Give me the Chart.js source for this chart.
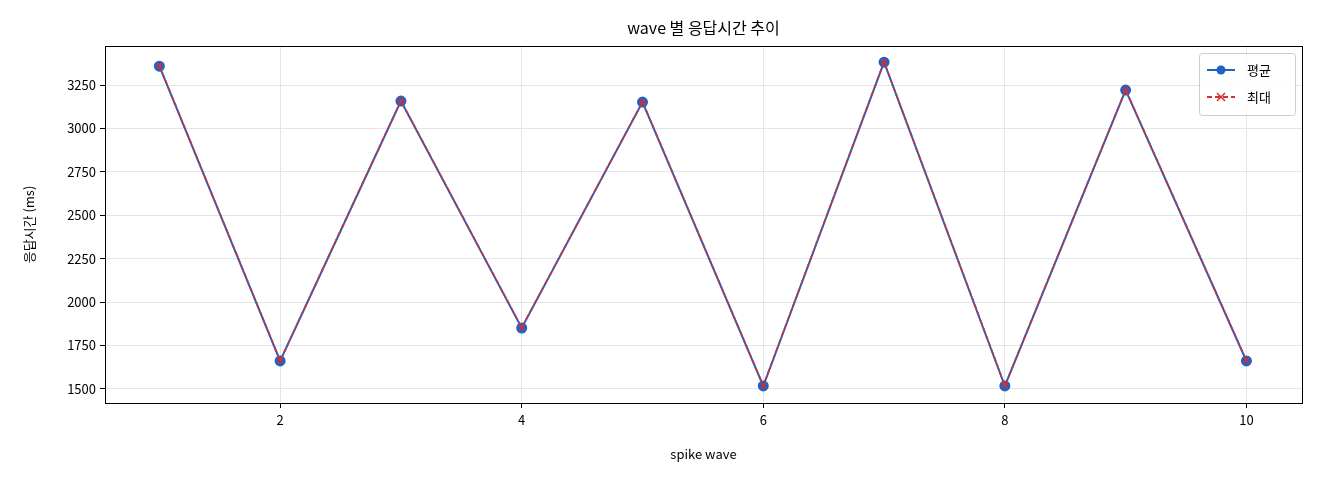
<!DOCTYPE html>
<html><head><meta charset="utf-8">
<script src="https://cdn.jsdelivr.net/npm/chart.js@4"></script>
<style>html,body{margin:0;padding:0;background:#fff}#w{width:1320px;height:480px}</style>
</head><body><div id="w"><canvas id="c"></canvas></div>
<script>
const waves = [1,2,3,4,5,6,7,8,9,10];
const avgMs = [3359,1661,3158,1851,3152,1517,3382,1517,3221,1661];
const maxMs = [3362,1663,3160,1853,3154,1519,3384,1519,3223,1663];
const xTicks = [2,4,6,8,10];
const yTicks = [1500,1750,2000,2250,2500,2750,3000,3250];
const F = "'Noto Sans CJK KR','Noto Sans',sans-serif";
const BLUE = '#1f62c4', RED = '#d62f2f';
const legendPlugin = {
  id:'lg',
  afterDraw(ch){
    const c = ch.ctx, a = ch.chartArea;
    const x = a.right - 103, y = a.top + 7, w = 96, h = 62;
    c.save();
    c.fillStyle='rgba(255,255,255,0.85)'; c.strokeStyle='#cccccc'; c.lineWidth=1;
    c.beginPath(); c.roundRect(x+.5,y+.5,w,h,3); c.fill(); c.stroke();
    c.font = "13px "+F; c.textBaseline='middle'; c.fillStyle='#000';
    let ry = y+17;
    c.strokeStyle=BLUE; c.lineWidth=2; c.setLineDash([]);
    c.beginPath(); c.moveTo(x+8,ry); c.lineTo(x+36,ry); c.stroke();
    c.fillStyle=BLUE; c.beginPath(); c.arc(x+22,ry,4.5,0,Math.PI*2); c.fill();
    c.fillStyle='#000'; c.fillText('평균', x+48, ry);
    ry = y+44;
    c.strokeStyle=RED; c.setLineDash([5,3]);
    c.beginPath(); c.moveTo(x+8,ry); c.lineTo(x+36,ry); c.stroke();
    c.setLineDash([]); c.lineWidth=1.5;
    c.beginPath(); c.moveTo(x+18,ry-4); c.lineTo(x+26,ry+4); c.moveTo(x+18,ry+4); c.lineTo(x+26,ry-4); c.stroke();
    c.fillStyle='#000'; c.fillText('최대', x+48, ry);
    c.font = "16px "+F; c.textAlign='center';
    c.fillText('wave 별 응답시간 추이', (a.left+a.right)/2, 28);
    c.strokeStyle='#000'; c.lineWidth=1;
    c.strokeRect(a.left+.5,a.top+.5,a.right-a.left,a.bottom-a.top);
    c.restore();
  }
};
new Chart(document.getElementById('c'), {
  type:'line',
  data:{datasets:[
    {label:'평균', order:1, data:waves.map((x,i)=>({x,y:avgMs[i]})), borderColor:BLUE, backgroundColor:BLUE, borderWidth:2, pointRadius:4.5, pointHoverRadius:4.5, pointStyle:'circle'},
    {label:'최대', order:0, data:waves.map((x,i)=>({x,y:maxMs[i]})), borderColor:RED, backgroundColor:RED, borderWidth:1.6, borderDash:[5,3], pointRadius:4, pointHoverRadius:4, pointStyle:'crossRot', pointBorderWidth:1.5}
  ]},
  options:{
    responsive:true, maintainAspectRatio:false, animation:false,
    layout:{padding:{top:46,right:18,left:17,bottom:18}},
    plugins:{legend:{display:false}, title:{display:false}, tooltip:{enabled:false}},
    scales:{
      x:{type:'linear', min:0.55, max:10.46,
        afterBuildTicks(s){s.ticks = xTicks.map(v=>({value:v}));},
        afterFit(s){s.height=59;},
        grid:{color:'#e5e5e5', tickColor:'#000', tickLength:5},
        border:{color:'#000'},
        ticks:{color:'#000', font:{family:F,size:13}, padding:4, callback:v=>String(v)},
        title:{display:true, text:'spike wave', color:'#000', font:{family:F,size:13}, padding:{top:6,bottom:0}}},
      y:{min:1419, max:3475,
        afterBuildTicks(s){s.ticks = yTicks.map(v=>({value:v}));},
        afterFit(s){s.width=88;},
        grid:{color:'#e5e5e5', tickColor:'#000', tickLength:5},
        border:{color:'#000'},
        ticks:{color:'#000', font:{family:F,size:13}, padding:4, callback:v=>String(v)},
        title:{display:true, text:'응답시간 (ms)', color:'#000', font:{family:F,size:13}, padding:{bottom:4}}}
    }
  },
  plugins:[legendPlugin]
});
</script></body></html>
